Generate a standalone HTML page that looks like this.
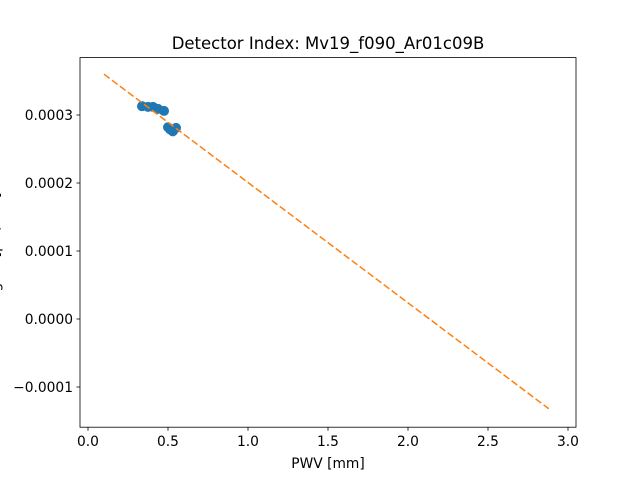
<!DOCTYPE html>
<html><head><meta charset="utf-8"><style>
html,body{margin:0;padding:0;background:#fff;width:640px;height:480px;overflow:hidden}
text{font-family:"DejaVu Sans","Liberation Sans",sans-serif;fill:#000}
</style></head><body>
<svg id="chart" width="640" height="480" xmlns="http://www.w3.org/2000/svg">
<rect width="640" height="480" fill="#fff"/>
<text x="328" y="49" font-size="16.5" text-anchor="middle">Detector Index: Mv19_f090_Ar01c09B</text>
<g id="plot"></g>
<rect x="80" y="57.6" width="496" height="369.6" fill="none" stroke="#000" stroke-width="0.8"/>
<text x="328" y="468" font-size="13.8" text-anchor="middle">PWV [mm]</text>
<text transform="translate(-0.5,242) rotate(-90)" font-size="13.8" text-anchor="middle">gain [pW/mm]</text>
</svg>
<script>
const xTicks=[0.0,0.5,1.0,1.5,2.0,2.5,3.0];
const xTickLabels=["0.0","0.5","1.0","1.5","2.0","2.5","3.0"];
const yTicks=[-0.0001,0.0,0.0001,0.0002,0.0003];
const yTickLabels=["\u22120.0001","0.0000","0.0001","0.0002","0.0003"];
const pwv=[0.3375,0.375,0.406,0.4375,0.475,0.5,0.5125,0.53,0.55];
const gain=[0.000313,0.000312,0.000312,0.000309,0.000306,0.000282,0.000279,0.000276,0.000281];
const fitX=[0.1,2.88];
const fitY=[0.00036,-0.000132];
const X=v=>88+v*160;
const Y=v=>319-v*680000;
const ns="http://www.w3.org/2000/svg";
const svg=document.getElementById('chart');
const plot=document.getElementById('plot');
function mk(tag,attrs,parent){const e=document.createElementNS(ns,tag);for(const k in attrs)e.setAttribute(k,attrs[k]);(parent||svg).appendChild(e);return e;}
xTicks.forEach((t,i)=>{
 const l=mk('line',{x1:X(t),x2:X(t),y1:427.2,y2:430.7,stroke:'#000','stroke-width':0.8});
 
 
 const tx=mk('text',{x:X(t),y:446,'font-size':13.8,'text-anchor':'middle'});
 tx.textContent=xTickLabels[i];
 
 
});
yTicks.forEach((t,i)=>{
 const l=mk('line',{x1:76.5,x2:80,y1:Y(t),y2:Y(t),stroke:'#000','stroke-width':0.8});
 
 
 const tx=mk('text',{x:73,y:Y(t)+5,'font-size':13.8,'text-anchor':'end'});
 tx.textContent=yTickLabels[i];
 
 
});
pwv.forEach((v,i)=>{
 const c=mk('circle',{cx:X(v),cy:Y(gain[i]),r:5,fill:'#1f77b4'},plot);
 
 
});
const fl=mk('line',{x1:X(fitX[0]),y1:Y(fitY[0]),x2:X(fitX[1]),y2:Y(fitY[1]),stroke:'#ff7f0e','stroke-width':1.5,'stroke-dasharray':'7,3'},plot);


</script>
</body></html>
